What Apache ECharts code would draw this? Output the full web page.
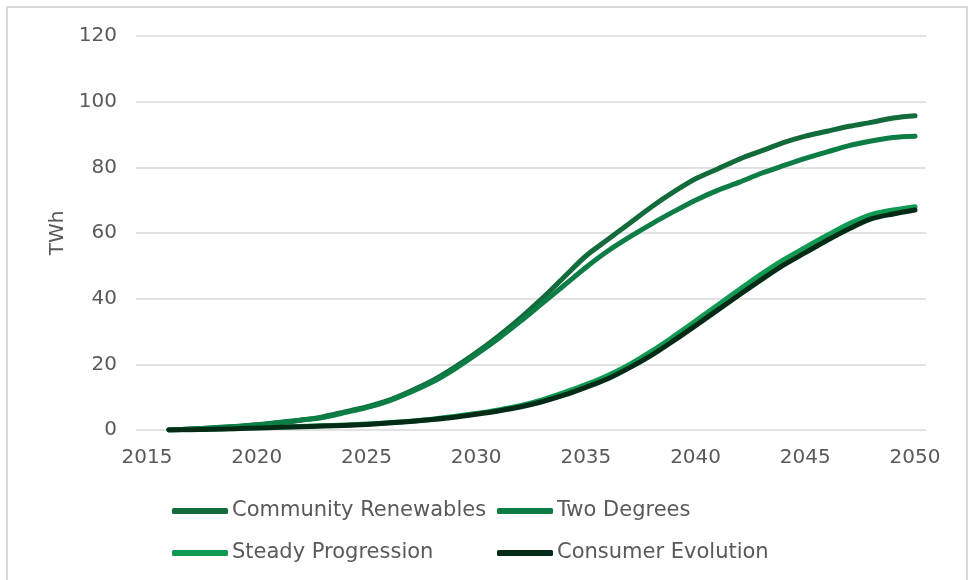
<!DOCTYPE html>
<html>
<head>
<meta charset="utf-8">
<script src="https://cdn.jsdelivr.net/npm/echarts@6/dist/echarts.min.js"></script>
<style>
  html, body { margin: 0; padding: 0; background: #ffffff; }
  #chart { width: 973px; height: 580px; }
</style>
</head>
<body>
<div id="chart"></div>
<script>
// Years on the category axis (2015 has no data; series start in 2016)
const years = [];
for (let y = 2015; y <= 2050; y++) years.push(String(y));

// Electricity demand, TWh, 2016–2050
const communityRenewables = [0, 0.3, 0.6, 1.0, 1.5, 2.2, 3.0, 4.0, 5.5, 7.0, 9.0, 11.8, 15.0, 19.0, 23.5, 28.5, 34.0, 40.0, 46.5, 53.0, 58.0, 63.0, 68.0, 72.5, 76.5, 79.5, 82.5, 85.0, 87.5, 89.5, 91.0, 92.5, 93.7, 95.0, 95.7];
const twoDegrees = [0, 0.3, 0.7, 1.1, 1.6, 2.3, 3.0, 3.8, 5.3, 6.8, 8.8, 11.5, 14.6, 18.5, 23.0, 27.8, 33.0, 38.5, 44.0, 49.5, 54.5, 58.8, 62.8, 66.5, 70.0, 73.0, 75.5, 78.2, 80.5, 82.7, 84.7, 86.6, 88.0, 89.1, 89.5];
const steadyProgression = [0, 0.1, 0.3, 0.5, 0.7, 0.9, 1.1, 1.3, 1.5, 1.8, 2.2, 2.7, 3.3, 4.1, 5.0, 6.1, 7.4, 9.2, 11.4, 13.8, 16.6, 20.0, 24.0, 28.5, 33.2, 38.0, 42.8, 47.5, 51.8, 55.6, 59.3, 62.8, 65.6, 67.0, 68.0];
const consumerEvolution = [0, 0.1, 0.2, 0.4, 0.6, 0.8, 1.0, 1.2, 1.4, 1.7, 2.1, 2.6, 3.2, 3.9, 4.8, 5.8, 7.0, 8.6, 10.6, 13.0, 15.6, 19.0, 22.8, 27.2, 31.8, 36.5, 41.2, 45.8, 50.2, 54.0, 57.8, 61.3, 64.3, 65.8, 67.0];

const seriesNames = ['Community Renewables', 'Two Degrees', 'Steady Progression', 'Consumer Evolution'];
const seriesValues = [communityRenewables, twoDegrees, steadyProgression, consumerEvolution];
const seriesColors = ['#136b3b', '#0b7d45', '#109a52', '#032b16'];

const FONT = '"DejaVu Sans", Verdana, sans-serif';
const TEXT = '#595959';

const chart = echarts.init(document.getElementById('chart'));

function legendAt(name, left, top) {
  return {
    data: [name],
    left: left,
    top: top,
    icon: 'roundRect',
    itemWidth: 56,
    itemHeight: 6,
    itemGap: 0,
    padding: 0,
    selectedMode: false,
    textStyle: { color: TEXT, fontFamily: FONT, fontSize: 21, lineHeight: 24, padding: [0, 0, 0, -1] }
  };
}

chart.setOption({
  animation: false,
  backgroundColor: '#ffffff',
  graphic: [{
    type: 'rect',
    shape: { x: 7, y: 7, width: 960, height: 600 },
    style: { fill: 'none', stroke: '#d9d9d9', lineWidth: 2 },
    silent: true
  }],
  grid: { left: 136, right: 47, top: 36, bottom: 150, containLabel: false },
  legend: [
    legendAt(seriesNames[0], 172, 499),
    legendAt(seriesNames[1], 497, 499),
    legendAt(seriesNames[2], 172, 541),
    legendAt(seriesNames[3], 497, 541)
  ],
  xAxis: {
    type: 'category',
    data: years,
    boundaryGap: true,
    axisLine: { show: false },
    axisTick: { show: false },
    axisLabel: { interval: 4, color: TEXT, fontFamily: FONT, fontSize: 20, margin: 18 },
    splitLine: { show: false }
  },
  yAxis: {
    type: 'value',
    min: 0,
    max: 120,
    interval: 20,
    name: 'TWh',
    nameLocation: 'middle',
    nameRotate: 90,
    nameGap: 68,
    nameTextStyle: { color: TEXT, fontFamily: FONT, fontSize: 20 },
    axisLine: { show: false },
    axisTick: { show: false },
    axisLabel: { color: TEXT, fontFamily: FONT, fontSize: 20, margin: 19 },
    splitLine: { lineStyle: { color: '#d9d9d9', width: 1.5 } }
  },
  series: seriesNames.map((name, i) => ({
    name: name,
    type: 'line',
    data: [null].concat(seriesValues[i]),
    smooth: 0.3,
    showSymbol: false,
    symbol: 'none',
    color: seriesColors[i],
    lineStyle: { width: 5, color: seriesColors[i], cap: 'round', join: 'round' },
    z: 2 + i
  }))
});
</script>
</body>
</html>
